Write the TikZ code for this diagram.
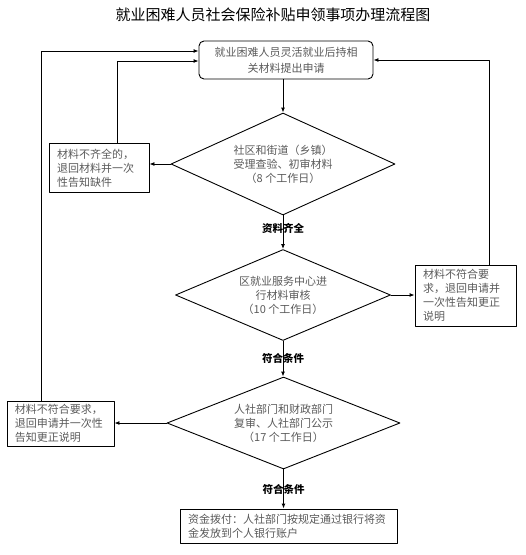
\documentclass[tikz,border=0pt]{standalone}
\usepackage{fontspec}
\newfontfamily\cjk{Noto Sans CJK SC}
\usetikzlibrary{shapes.geometric,arrows.meta}
\definecolor{bodygray}{RGB}{90,90,90}

\begin{document}
\begin{tikzpicture}[x=1pt,y=-1pt,line cap=round,line join=round,
  >={Latex[length=5pt,width=4pt]},
  every node/.style={font=\cjk\fontsize{11}{14}\selectfont},
  startbox/.style={draw,rectangle,rounded corners=5pt,line width=0.9pt,text=bodygray,
    align=center,inner sep=0pt,font=\cjk\fontsize{11}{16}\selectfont},
  checkbox/.style={draw,diamond,line width=0.9pt,inner sep=0pt,text=bodygray,align=center},
  backbox/.style={draw,rectangle,line width=0.9pt,text=bodygray,align=left,
    inner xsep=8pt,inner ysep=0pt},
  passlabel/.style={font=\cjk\bfseries\fontsize{10.5}{12}\selectfont},
  flow/.style={line width=0.9pt,->}]
  \useasboundingbox (0,0) rectangle (526,555);
  \node[font=\cjk\fontsize{15}{18}\selectfont] (title) at (273,15)
    {就业困难人员社会保险补贴申领事项办理流程图};
  % main column
  \node[startbox,minimum width=174pt,minimum height=38pt] (apply) at (286,60)
    {就业困难人员灵活就业后持相\\关材料提出申请};
  \node[checkbox,aspect=2.2,minimum width=224pt,minimum height=102pt] (street) at (283,164)
    {社区和街道（乡镇）\\受理查验、初审材料\\（8 个工作日）};
  \node[checkbox,aspect=2.36,minimum width=215pt,minimum height=91pt] (center) at (283,295)
    {区就业服务中心进\\行材料审核\\（10 个工作日）};
  \node[checkbox,aspect=2.53,minimum width=233pt,minimum height=92pt] (review) at (283.5,423)
    {人社部门和财政部门\\复审、人社部门公示\\（17 个工作日）};
  \node[backbox,text width=201pt,minimum height=34pt] (grant) at (288.5,526)
    {资金拨付：人社部门按规定通过银行将资\\金发放到个人银行账户};
  % returns
  \node[backbox,text width=84pt,minimum height=49pt] (lack) at (99,168)
    {材料不齐全的，\\退回材料并一次\\性告知缺件};
  \node[backbox,text width=85pt,minimum height=61pt] (reject1) at (465.5,295.5)
    {材料不符合要\\求，退回申请并\\一次性告知更正\\说明};
  \node[backbox,text width=91pt,minimum height=45pt] (reject2) at (60.5,423.5)
    {材料不符合要求，\\退回申请并一次性\\告知更正说明};
  \coordinate (loopA) at (117,61);
  \coordinate (loopB) at (489,60);
  \coordinate (loopC) at (41,51);
  % connectors
  \draw[flow] (apply.south -| street.north) -- (street.north);
  \draw[flow] (street.west) -- (street.west -| lack.east);
  \draw[flow] (loopA |- lack.north) -- (loopA) -- (loopA -| apply.west);
  \draw[flow] (street.south) -- node[passlabel,pos=.38] (ok1) {资料齐全} (street.south |- center.north);
  \draw[flow] (center.east) -- (center.east -| reject1.west);
  \draw[flow] (loopB |- reject1.north) -- (loopB) -- (loopB -| apply.east);
  \draw[flow] (center.south) -- node[passlabel] (ok2) {符合条件} (center.south |- review.north);
  \draw[flow] (review.west) -- (review.west -| reject2.east);
  \draw[flow] (loopC |- reject2.north) -- (loopC) -- (loopC -| apply.west);
  \draw[flow] (review.south) -- node[passlabel] (ok3) {符合条件} (review.south |- grant.north);
\end{tikzpicture}
\end{document}
